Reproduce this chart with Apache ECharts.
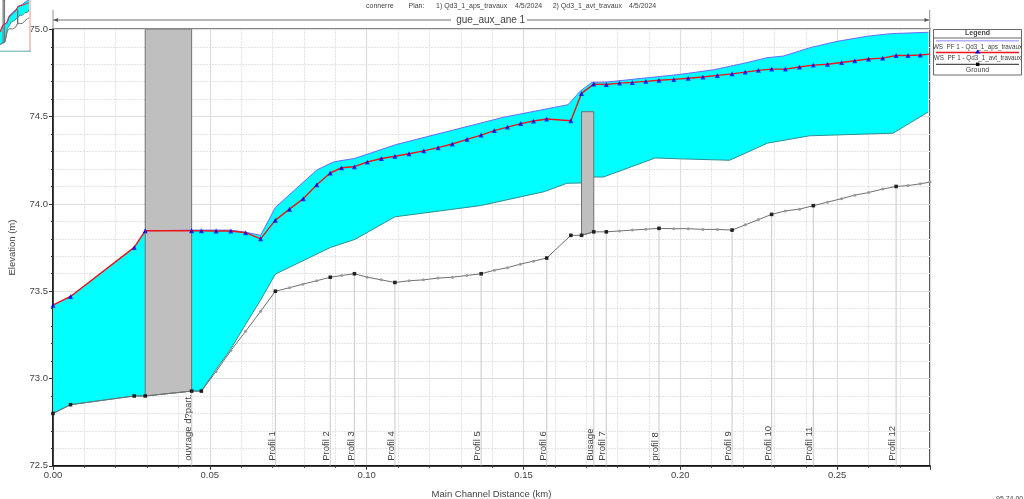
<!DOCTYPE html>
<html><head><meta charset="utf-8">
<style>html,body{margin:0;padding:0;background:#fff}#c{width:1024px;height:499px}</style>
<script src="https://cdn.jsdelivr.net/npm/echarts@6/dist/echarts.min.js"></script>
</head><body><div id="c"></div>
<script>
const groundX=[0,.0056,.0259,.0294,.0442,.0473,.052,.0567,.0614,.0662,.0709,.0754,.0796,.0841,.0884,.092,.0961,.1002,.1047,.109,.1136,.1181,.1227,.1273,.1319,.1365,.1407,.1449,.149,.1532,.1574,.1651,.1685,.1724,.1764,.1806,.1847,.189,.1932,.1979,.2025,.2072,.2118,.2165,.2207,.2249,.2291,.2335,.238,.2424,.2469,.2514,.2556,.26,.2645,.2688,.2726,.2765,.2796];
const groundY=[72.8,72.85,72.9,72.9,72.928,72.928,73.04,73.16,73.27,73.385,73.5,73.52,73.54,73.56,73.58,73.59,73.6,73.58,73.565,73.55,73.56,73.565,73.575,73.58,73.59,73.6,73.62,73.635,73.655,73.672,73.69,73.82,73.82,73.84,73.84,73.845,73.85,73.855,73.86,73.858,73.858,73.854,73.854,73.85,73.88,73.91,73.94,73.96,73.97,73.99,74.01,74.03,74.05,74.065,74.085,74.1,74.105,74.115,74.125];
const groundNodeX=[0,.0056,.0259,.0294,.0442,.0473,.0709,.0884,.0961,.109,.1365,.1574,.1651,.1685,.1724,.1764,.1932,.2165,.2291,.2424,.2688];
const groundNodeY=[72.8,72.85,72.9,72.9,72.928,72.928,73.5,73.58,73.6,73.55,73.6,73.69,73.82,73.82,73.84,73.84,73.86,73.85,73.94,73.99,74.1];
const avtX=[0,.0056,.0259,.0294,.0442,.0473,.052,.0567,.0614,.0662,.0709,.0754,.0798,.0841,.0884,.092,.0961,.1002,.1047,.109,.1135,.1182,.1228,.1273,.132,.1365,.1407,.1449,.1491,.1532,.1574,.1651,.1685,.1724,.1764,.1806,.1847,.189,.1932,.1979,.2025,.2072,.2118,.2165,.2207,.2249,.2291,.2335,.238,.2424,.2469,.2514,.2556,.26,.2645,.2688,.2726,.2765];
const avtY=[73.42,73.47,73.751,73.846,73.846,73.846,73.845,73.845,73.835,73.8,73.907,73.97,74.03,74.11,74.177,74.207,74.213,74.24,74.26,74.273,74.287,74.304,74.322,74.343,74.37,74.394,74.42,74.44,74.46,74.475,74.486,74.476,74.633,74.686,74.684,74.692,74.696,74.702,74.708,74.713,74.72,74.727,74.736,74.745,74.755,74.765,74.772,74.772,74.784,74.795,74.8,74.81,74.82,74.83,74.835,74.85,74.85,74.853];
const avtEndX=.2796, avtEndY=74.858;
const apsX=[0,.0056,.0259,.0294,.0442,.0566,.0614,.0662,.0709,.0841,.0894,.0915,.0961,.1094,.1436,.1642,.1681,.1718,.1766,.2,.2106,.2202,.2276,.2329,.2414,.25,.2595,.267,.2791];
const apsY=[73.42,73.47,73.751,73.846,73.85,73.85,73.838,73.82,73.98,74.194,74.24,74.247,74.26,74.34,74.496,74.568,74.646,74.696,74.698,74.742,74.768,74.805,74.837,74.847,74.895,74.931,74.96,74.975,74.983];
const bedX=[.279,.2678,.2412,.2278,.2157,.2,.192,.1755,.1723,.1685,.1638,.1566,.1362,.109,.0963,.0884,.0709,.0662,.0614,.0567,.052,.0473,.0442,.0294,.0259,.0056,0];
const bedY=[74.526,74.405,74.39,74.348,74.25,74.258,74.263,74.154,74.154,74.12,74.118,74.07,73.99,73.926,73.797,73.75,73.598,73.45,73.31,73.17,73.052,72.928,72.928,72.9,72.9,72.85,72.8];
const bridgeX=[.0294,.0442,.0442,.0294];
const bridgeY=[75,75,72.928,72.9];
const culvertX=[.1685,.1724,.1724,.1685];
const culvertY=[74.528,74.528,73.84,73.82];
const stationNames=["ouvrage d?part.","Profil 1","Profil 2","Profil 3","Profil 4","Profil 5","Profil 6","Busage","Profil 7","profil 8","Profil 9","Profil 10","Profil 11","Profil 12"];
const stationX=[.0442,.0709,.0884,.0961,.109,.1365,.1574,.1724,.1764,.1932,.2165,.2291,.2424,.2688];
const stationGround=[72.928,73.5,73.58,73.6,73.55,73.6,73.69,73.84,73.84,73.86,73.85,73.94,73.99,74.1];
const legendLabels=["WS  PF 1 - Qd3_1_aps_travaux","WS  PF 1 - Qd3_1_avt_travaux","Ground"];
const xTicks={min:0,max:.2796,step:.05}, yTicks={min:72.5,max:75,step:.5};

const FONT='"Liberation Sans",Arial,sans-serif', TXT='#444444';
const zip=(a,b)=>a.map((v,i)=>[v,b[i]]);
function poly(pts,fill,stroke,ax,z){
  return {type:'custom',xAxisIndex:ax,yAxisIndex:ax,z,silent:true,data:pts,clip:true,
    renderItem:(p,api)=>p.dataIndex===0?{type:'polygon',shape:{points:pts.map(q=>api.coord(q))},style:{fill,stroke,lineWidth:stroke?1:0}}:null};
}
function line(x,y,color,width,ax,z,extra){
  return Object.assign({type:'line',xAxisIndex:ax,yAxisIndex:ax,z,silent:true,data:zip(x,y),symbol:'none',clip:false,
    lineStyle:{color,width},animation:false},extra||{});
}
function profile(ax,full){
  const s=[
    poly(zip(apsX,apsY).concat(zip(bedX,bedY)),'#00ffff',null,ax,2),
    line(bedX,bedY,'#2f8f8f',1,ax,3),
    poly(zip(bridgeX,bridgeY),'#bfbfbf','#707070',ax,4),
    poly(zip(culvertX,culvertY),'#bfbfbf','#707070',ax,4),
    line(groundX,groundY,'#707070',1,ax,5,full?{symbol:'circle',symbolSize:3,itemStyle:{color:'#9a9a9a'},showSymbol:true,showAllSymbol:true}:{}),
    line(apsX,apsY,'#6a6aff',1,ax,6),
    line(avtX.concat([avtEndX]),avtY.concat([avtEndY]),'#f01414',full?1.4:1,ax,7)
  ];
  if(full){
    s.push({type:'scatter',xAxisIndex:ax,yAxisIndex:ax,z:8,silent:true,data:zip(avtX,avtY),symbol:'triangle',symbolSize:5,itemStyle:{color:'#0000f0'},clip:false});
    s.push({type:'scatter',xAxisIndex:ax,yAxisIndex:ax,z:8,silent:true,data:zip(groundNodeX,groundNodeY),symbol:'rect',symbolSize:3.6,itemStyle:{color:'#000'},clip:false});
    s.push({type:'custom',xAxisIndex:ax,yAxisIndex:ax,z:1,silent:true,data:zip(stationX,stationGround),clip:true,
      renderItem:(p,api)=>{const i=p.dataIndex,a=api.coord([stationX[i],yTicks.min]),b=api.coord([stationX[i],stationGround[i]]);
        return {type:'line',shape:{x1:a[0],y1:a[1],x2:b[0],y2:b[1]},style:{stroke:'#d2d2d2',lineWidth:1.2}};}});
    s.push({type:'custom',xAxisIndex:ax,yAxisIndex:ax,z:9,silent:true,data:zip(stationX,stationGround),
      renderItem:(p,api)=>{const a=api.coord([stationX[p.dataIndex],yTicks.min]);
        return {type:'text',x:a[0]-3.5,y:a[1]-5,rotation:Math.PI/2,style:{text:stationNames[p.dataIndex],font:'9.5px '+FONT,fill:TXT,align:'left',verticalAlign:'middle'}};}});
  }
  return s;
}
function T(x,y,text,size,align,bold){return {type:'text',x,y,silent:true,z:20,style:{text,font:(bold?'bold ':'')+size+'px '+FONT,fill:TXT,align:align||'left',verticalAlign:'middle'}};}
function L(x1,y1,x2,y2,c,w){return {type:'line',silent:true,z:19,shape:{x1,y1,x2,y2},style:{stroke:c,lineWidth:w||1}};}
const graphics=[
  T(366,6.5,'connerre',7),T(408.5,6.5,'Plan:',7),T(436,6.5,'1) Qd3_1_aps_travaux',7),T(515,6.5,'4/5/2024',7),T(552.7,6.5,'2) Qd3_1_avt_travaux',7),T(629,6.5,'4/5/2024',7),
  L(53,20,451,20,'#6e6e6e'),L(527,20,929,20,'#6e6e6e'),
  L(53,10,53,29,'#909090'),L(929.7,10,929.7,29,'#909090'),
  {type:'polygon',silent:true,z:19,shape:{points:[[53.5,20],[58,18],[58,22]]},style:{fill:'#555'}},
  {type:'polygon',silent:true,z:19,shape:{points:[[929,20],[924.5,18],[924.5,22]]},style:{fill:'#555'}},
  T(490.7,20.5,'gue_aux_ane 1',10,'center'),
  {type:'rect',silent:true,z:19,shape:{x:933.5,y:29.5,width:88,height:45.5},style:{fill:'#fff',stroke:'#666',lineWidth:1}},
  L(933.5,38,1021.5,38,'#666'),
  T(977.5,33.5,'Legend',7,'center',true),
  L(936,40.7,1019,40.7,'#b0b0ff',1.5),
  T(977.5,46.8,legendLabels[0],6.3,'center'),
  L(936,52.5,1019,52.5,'#f01414',1.5),
  {type:'polygon',silent:true,z:20,shape:{points:[[977.7,49.5],[975,53.5],[980.4,53.5]]},style:{fill:'#0000f0'}},
  T(977.5,58,legendLabels[1],6.3,'center'),
  L(936,64.3,1019,64.3,'#222',1),
  {type:'rect',silent:true,z:20,shape:{x:976,y:62.6,width:3.4,height:3.4},style:{fill:'#000'}},
  T(977.5,69.6,legendLabels[2],7,'center'),
  T(996,499,'95.74 00',7),
  {type:'rect',silent:true,z:10,shape:{x:29,y:0,width:2,height:51},style:{fill:'#f4c8c4'}},
  L(0,51.2,31,51.2,'#5aa9a9')
];
const chart=echarts.init(document.getElementById('c'),null,{renderer:'canvas'});
chart.setOption({
  animation:false,backgroundColor:'#fff',textStyle:{fontFamily:FONT},
  grid:[{left:53,top:29.3,width:877,height:436.5,show:true,borderColor:'#111',borderWidth:1.5,backgroundColor:'#fff',z:0,outerBoundsMode:'none'},
        {left:0,top:0,width:29,height:51,show:false,outerBoundsMode:'none'}],
  xAxis:[{type:'value',gridIndex:0,min:xTicks.min,max:xTicks.max,interval:xTicks.step,
      name:'Main Channel Distance (km)',nameLocation:'middle',nameGap:24,nameTextStyle:{fontFamily:FONT,fontSize:9.5,color:TXT},
      axisLine:{onZero:false,lineStyle:{color:'#111',width:1.5}},
      axisTick:{show:true,length:4,lineStyle:{color:'#333'}},
      minorTick:{show:true,splitNumber:5,length:2,lineStyle:{color:'#333'}},
      splitLine:{show:true,lineStyle:{color:'#dddddd',width:1.2}},
      minorSplitLine:{show:true,lineStyle:{color:'#e2e2e2',width:1,type:[2,1]}},
      axisLabel:{fontFamily:FONT,fontSize:9.5,color:TXT,margin:5,showMaxLabel:false,formatter:v=>v.toFixed(2)}},
    {type:'value',gridIndex:1,min:xTicks.min,max:xTicks.max,show:false}],
  yAxis:[{type:'value',gridIndex:0,min:yTicks.min,max:yTicks.max,interval:yTicks.step,
      name:'Elevation (m)',nameLocation:'middle',nameGap:36,nameRotate:90,nameTextStyle:{fontFamily:FONT,fontSize:9.5,color:TXT},
      axisLine:{onZero:false,lineStyle:{color:'#111',width:1.5}},
      axisTick:{show:true,length:4,lineStyle:{color:'#333'}},
      minorTick:{show:true,splitNumber:5,length:2,lineStyle:{color:'#333'}},
      splitLine:{show:true,lineStyle:{color:'#dddddd',width:1.2}},
      minorSplitLine:{show:true,lineStyle:{color:'#e2e2e2',width:1,type:[2,1]}},
      axisLabel:{fontFamily:FONT,fontSize:9.5,color:TXT,margin:5,formatter:v=>v.toFixed(1)}},
    {type:'value',gridIndex:1,min:yTicks.min,max:yTicks.max,show:false}],
  series:profile(0,true).concat(profile(1,false)),
  graphic:{elements:graphics}
});
</script></body></html>
